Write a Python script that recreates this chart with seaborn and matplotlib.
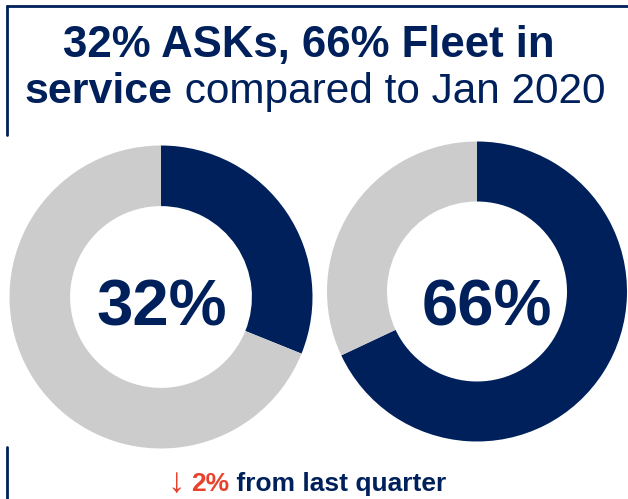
import matplotlib
matplotlib.use("Agg")
import matplotlib.pyplot as plt
from matplotlib.lines import Line2D
import seaborn as sns

# ---- data ----
labels = ["ASKs", "Fleet in service"]
shares = [31.1, 68.0]        # wedge sizes as drawn (% of Jan 2020)
center_text = ["32%", "66%"]
title_line1 = "32% ASKs, 66% Fleet in"
title_line2_bold = "service"
title_line2_rest = " compared to Jan 2020"
change_arrow = "\u2193"
change_value = "2%"
change_text = " from last quarter"

NAVY = "#00205b"
GRAY = "#cccccc"
RED = "#e8412c"

sns.set_theme(style="white")
plt.rcParams['font.family'] = ['Liberation Sans', 'DejaVu Sans']

W, H = 628, 499
fig = plt.figure(figsize=(W / 100, H / 100), dpi=100)
fig.patch.set_facecolor("white")

def fx(x):
    return x / W

def fy(y):
    return 1 - y / H

# frame lines
lw = 2.0
fig.add_artist(Line2D([fx(7), fx(628)], [fy(6), fy(6)], color=NAVY, lw=lw))
fig.add_artist(Line2D([fx(7), fx(7)], [fy(6), fy(135)], color=NAVY, lw=lw))
fig.add_artist(Line2D([fx(7), fx(7)], [fy(447), fy(499)], color=NAVY, lw=lw))

# donuts
geom = [(161, 297, 151.5), (477, 291.5, 150)]
text_x = [162, 487]
for i, (cx, cy, r) in enumerate(geom):
    ax = fig.add_axes([fx(cx - r), fy(cy + r), (2 * r) / W, (2 * r) / H])
    vals = [shares[i], 100 - shares[i]]
    ax.pie(vals, colors=[NAVY, GRAY], startangle=90, counterclock=False,
           radius=1, wedgeprops=dict(width=0.4, edgecolor="none", linewidth=0))
    ax.set_xlim(-1, 1)
    ax.set_ylim(-1, 1)
    ax.set_aspect("equal")
    ax.axis("off")
    fig.text(fx(text_x[i]), fy(325), center_text[i], ha="center", va="baseline",
             fontsize=47, fontweight="bold", color=NAVY)

# title
fig.text(fx(309), fy(57), title_line1, ha="center", va="baseline",
         fontsize=31.5, fontweight="bold", color=NAVY)

fig.canvas.draw()
renderer = fig.canvas.get_renderer()
t_b = fig.text(0, fy(103), title_line2_bold, ha="left", va="baseline",
               fontsize=31, fontweight="bold", color=NAVY)
t_r = fig.text(0, fy(103), title_line2_rest, ha="left", va="baseline",
               fontsize=30.5, fontweight="normal", color=NAVY)
wb = t_b.get_window_extent(renderer).width
wr = t_r.get_window_extent(renderer).width
start = 315 - (wb + wr) / 2
t_b.set_x(fx(start))
t_r.set_x(fx(start + wb))

# bottom note
a = fig.text(fx(167), fy(492), change_arrow, ha="left", va="baseline",
             fontsize=25, color=RED, family=['Liberation Sans', 'DejaVu Sans'])
v = fig.text(fx(191), fy(491), change_value, ha="left", va="baseline",
             fontsize=19, fontweight="bold", color=RED)
wv = v.get_window_extent(renderer).width
c = fig.text(fx(191 + wv), fy(491), change_text, ha="left", va="baseline",
             fontsize=19, fontweight="bold", color=NAVY)

fig.savefig("out.png", dpi=100, facecolor="white")
